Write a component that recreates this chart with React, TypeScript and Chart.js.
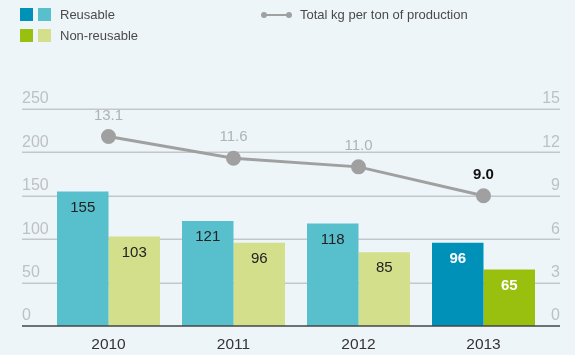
import React, { useEffect, useRef } from "react";
import { Chart, registerables } from "chart.js";

Chart.register(...registerables);

const categories = ["2010", "2011", "2012", "2013"];
const reusable = [155, 121, 118, 96];
const nonReusable = [103, 96, 85, 65];
const totalKgPerTon = [13.1, 11.6, 11.0, 9.0];
const leftTicks = [0, 50, 100, 150, 200, 250];
const rightTicks = [0, 3, 6, 9, 12, 15];

const FONT = "'Liberation Sans', Arial, Helvetica, sans-serif";
const BG = "#edf5f8";
const REUSE_LIGHT = "#58bfcd";
const REUSE_DARK = "#0091b9";
const NONRE_LIGHT = "#d4df8c";
const NONRE_DARK = "#99c00e";
const LINE_GREY = "#a0a0a0";

const customDraw = {
  id: "customDraw",
  beforeDatasetsDraw(chart: any) {
    const ctx = chart.ctx;
    const y = chart.scales.y;
    const y1 = chart.scales.y1;
    ctx.save();
    ctx.strokeStyle = "#c3c7c9";
    ctx.lineWidth = 1.5;
    leftTicks.forEach((t) => {
      if (t === 0) return;
      const py = Math.round(y.getPixelForValue(t)) + 0.25;
      ctx.beginPath();
      ctx.moveTo(22, py);
      ctx.lineTo(560, py);
      ctx.stroke();
    });
    ctx.font = `16px ${FONT}`;
    ctx.fillStyle = "#bec1c3";
    ctx.textBaseline = "bottom";
    ctx.textAlign = "left";
    leftTicks.forEach((t) => {
      ctx.fillText(String(t), 22, y.getPixelForValue(t) - 2);
    });
    ctx.textAlign = "right";
    rightTicks.forEach((t) => {
      ctx.fillText(String(t), 560, y1.getPixelForValue(t) - 2);
    });
    ctx.restore();
  },
  afterDatasetsDraw(chart: any) {
    const ctx = chart.ctx;
    const x = chart.scales.x;
    const y = chart.scales.y;
    ctx.save();
    const by = y.getPixelForValue(0);
    ctx.strokeStyle = "#444";
    ctx.lineWidth = 1.5;
    ctx.beginPath();
    ctx.moveTo(22, by);
    ctx.lineTo(560, by);
    ctx.stroke();
    ctx.font = `15.5px ${FONT}`;
    ctx.fillStyle = "#333";
    ctx.textAlign = "center";
    ctx.textBaseline = "middle";
    categories.forEach((c, i) => {
      ctx.fillText(c, x.getPixelForValue(i), by + 19);
    });
    [0, 1].forEach((di) => {
      const meta = chart.getDatasetMeta(di);
      const data = chart.data.datasets[di].data;
      meta.data.forEach((el: any, i: number) => {
        const last = i === categories.length - 1;
        ctx.font = `${last ? "bold " : ""}15px ${FONT}`;
        ctx.fillStyle = last ? "#ffffff" : "#222";
        ctx.fillText(String(data[i]), el.x, el.y + 16);
      });
    });
    const lm = chart.getDatasetMeta(2);
    lm.data.forEach((el: any, i: number) => {
      const last = i === categories.length - 1;
      ctx.font = `${last ? "bold " : ""}15px ${FONT}`;
      ctx.fillStyle = last ? "#111" : "#b0b3b5";
      ctx.fillText(totalKgPerTon[i].toFixed(1), el.x, el.y - 21);
    });
    ctx.restore();
  },
};

export default function App() {
  const ref = useRef<HTMLCanvasElement | null>(null);

  useEffect(() => {
    document.body.style.margin = "0";
    const last = categories.length - 1;
    const chart = new Chart(ref.current as HTMLCanvasElement, {
      type: "bar",
      data: {
        labels: categories,
        datasets: [
          {
            type: "bar",
            label: "Reusable",
            data: reusable,
            backgroundColor: categories.map((_, i) => (i === last ? REUSE_DARK : REUSE_LIGHT)),
            yAxisID: "y",
            order: 1,
            categoryPercentage: 0.824,
            barPercentage: 1,
          } as any,
          {
            type: "bar",
            label: "Non-reusable",
            data: nonReusable,
            backgroundColor: categories.map((_, i) => (i === last ? NONRE_DARK : NONRE_LIGHT)),
            yAxisID: "y",
            order: 1,
            categoryPercentage: 0.824,
            barPercentage: 1,
          } as any,
          {
            type: "line",
            label: "Total kg per ton of production",
            data: totalKgPerTon,
            borderColor: LINE_GREY,
            backgroundColor: LINE_GREY,
            pointBackgroundColor: LINE_GREY,
            pointBorderColor: LINE_GREY,
            borderWidth: 3,
            pointRadius: 6,
            yAxisID: "y1",
            order: 0,
          } as any,
        ],
      },
      options: {
        responsive: false,
        animation: false,
        layout: { padding: { left: 46, right: 29, top: 109, bottom: 29 } },
        plugins: { legend: { display: false }, tooltip: { enabled: false } },
        scales: {
          x: { display: false },
          y: { display: false, min: 0, max: 250 },
          y1: { display: false, min: 0, max: 15, position: "right" },
        },
      },
      plugins: [customDraw],
    });
    return () => chart.destroy();
  }, []);

  const sq = (c: string, left: number, top: number) => (
    <div style={{ position: "absolute", left, top, width: 13, height: 13, background: c }} />
  );
  const txt = (s: string, left: number, top: number) => (
    <div
      style={{
        position: "absolute",
        left,
        top,
        fontFamily: FONT,
        fontSize: 13,
        lineHeight: "14px",
        color: "#4a4a4a",
        whiteSpace: "nowrap",
      }}
    >
      {s}
    </div>
  );

  return (
    <div style={{ position: "relative", width: 575, height: 355, background: BG, overflow: "hidden" }}>
      <canvas ref={ref} width={575} height={355} style={{ position: "absolute", left: 0, top: 0 }} />
      {sq(REUSE_DARK, 20, 8)}
      {sq(REUSE_LIGHT, 38, 8)}
      {txt("Reusable", 60, 8)}
      {sq(NONRE_DARK, 20, 29)}
      {sq(NONRE_LIGHT, 38, 29)}
      {txt("Non-reusable", 60, 29)}
      <div style={{ position: "absolute", left: 264, top: 14, width: 25, height: 2, background: LINE_GREY }} />
      <div style={{ position: "absolute", left: 261, top: 12, width: 6, height: 6, borderRadius: 3, background: LINE_GREY }} />
      <div style={{ position: "absolute", left: 286, top: 12, width: 6, height: 6, borderRadius: 3, background: LINE_GREY }} />
      {txt("Total kg per ton of production", 300, 8)}
    </div>
  );
}
